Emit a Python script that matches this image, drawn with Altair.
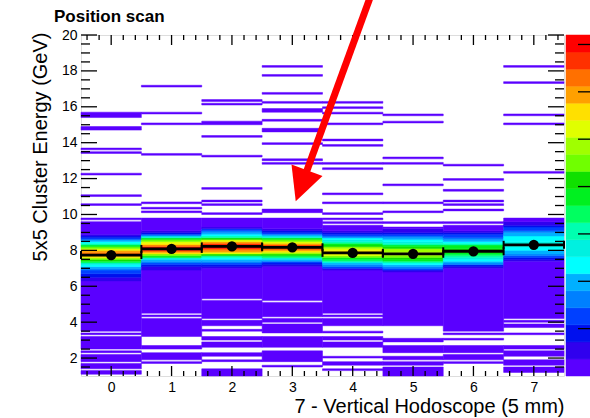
import altair as alt
import pandas as pd

FONT = "Liberation Sans"

# ---------------------------------------------------------------- data
hodo_bins = [0, 1, 2, 3, 4, 5, 6, 7]

# profile (mean cluster energy per hodoscope channel, GeV)
profile_mean = [7.74, 8.08, 8.22, 8.17, 7.86, 7.81, 7.95, 8.31]

# energy intervals (GeV) holding a few entries -> lowest colour level
occupied = [
    [[15.4, 15.7], [14.7, 14.9], [13.6, 13.7], [13.4, 13.5], [12.2, 12.3], [11.0, 11.1],
     [10.5, 10.6], [9.7, 9.8], [3.5, 9.6], [3.3, 3.4], [2.5, 3.2], [2.3, 2.4], [1.8, 2.2],
     [1.4, 1.7], [1.1, 1.3]],
    [[17.1, 17.2], [15.6, 15.7], [15.0, 15.1], [13.3, 13.4], [10.6, 10.7], [10.3, 10.4],
     [10.1, 10.2], [4.5, 9.8], [4.3, 4.4], [3.2, 4.2], [2.5, 2.7], [1.9, 2.3], [1.7, 1.8]],
    [[16.3, 16.4], [16.1, 16.2], [15.0, 15.2], [14.3, 14.4], [13.2, 13.3], [11.4, 11.5],
     [10.7, 10.8], [10.5, 10.6], [10.0, 10.1], [5.3, 9.8], [4.2, 5.2], [3.8, 4.1], [3.5, 3.6],
     [3.0, 3.2], [2.6, 2.9], [2.1, 2.3], [1.8, 1.9], [1.0, 1.4]],
    [[18.2, 18.3], [17.7, 17.8], [16.7, 16.8], [16.2, 16.3], [15.7, 15.9], [15.2, 15.3],
     [14.6, 14.8], [13.9, 14.0], [13.0, 13.1], [12.8, 12.9], [10.1, 10.3], [5.2, 9.8],
     [4.3, 5.1], [4.0, 4.2], [3.4, 3.9], [2.6, 3.2], [1.8, 2.4], [1.5, 1.6]],
    [[16.2, 16.3], [15.9, 16.0], [15.6, 15.7], [15.0, 15.1], [14.1, 14.2], [13.8, 13.9],
     [12.8, 12.9], [12.5, 12.6], [11.1, 11.2], [10.6, 10.7], [10.0, 10.1], [9.7, 9.8],
     [9.5, 9.6], [4.5, 9.4], [4.3, 4.4], [3.8, 4.2], [3.4, 3.5], [3.0, 3.2], [2.6, 2.9],
     [2.0, 2.1], [1.6, 1.8], [1.3, 1.4]],
    [[15.5, 15.6], [15.1, 15.2], [13.1, 13.2], [12.8, 12.9], [11.6, 11.7], [10.6, 10.7],
     [10.1, 10.2], [9.5, 9.6], [3.8, 9.3], [2.9, 3.1], [2.3, 2.7], [1.9, 2.1], [1.6, 1.8],
     [1.0, 1.5]],
    [[12.7, 12.8], [11.9, 12.0], [11.3, 11.4], [10.7, 10.8], [10.5, 10.6], [10.2, 10.3],
     [9.5, 9.6], [3.5, 9.4], [3.3, 3.4], [3.0, 3.1], [2.3, 2.7], [1.9, 2.2], [1.7, 1.8]],
    [[18.2, 18.3], [17.3, 17.4], [15.5, 15.6], [15.0, 15.1], [12.3, 12.4], [4.2, 9.8],
     [4.0, 4.1], [3.7, 3.9], [3.3, 3.4], [2.5, 2.7], [2.1, 2.4], [1.6, 1.9], [1.2, 1.5]],
]

# colour level (1..20) of every 0.1 GeV bin in the populated core
core_start = [6.3, 6.9, 7.0, 7.1, 6.9, 6.8, 7.0, 7.4]
core_levels = [
    [2, 2, 3, 3, 4, 4, 5, 6, 7, 8, 10, 12, 14, 16, 18, 18, 17, 15, 13, 11, 9, 7, 6, 4, 3, 2],
    [2, 2, 3, 4, 5, 6, 8, 11, 13, 16, 18, 20, 20, 18, 16, 15, 13, 11, 8, 5, 3, 2],
    [2, 3, 4, 5, 6, 7, 9, 12, 15, 17, 18, 20, 20, 19, 17, 15, 12, 9, 7, 6, 5, 4, 2],
    [2, 3, 4, 6, 8, 10, 12, 14, 16, 18, 19, 19, 17, 15, 13, 11, 8, 6, 4, 3, 2],
    [2, 4, 5, 6, 8, 10, 11, 13, 15, 16, 16, 15, 14, 12, 11, 9, 8, 7, 5, 4, 3, 2],
    [2, 4, 5, 6, 7, 9, 11, 12, 13, 14, 15, 14, 14, 12, 11, 9, 8, 7, 6, 5, 4, 3, 2, 2],
    [2, 3, 5, 6, 7, 8, 9, 10, 11, 12, 12, 11, 11, 9, 7, 6, 5, 4, 4, 3, 2],
    [2, 3, 4, 5, 6, 6, 7, 7, 8, 8, 8, 7, 7, 7, 6, 6, 5, 4, 4, 3, 2, 2],
]

# rainbow palette, lowest level first
palette = ["#5A00FF", "#3000EE", "#0010EE", "#0040FF", "#0080FF", "#00B0FF", "#00FFFF",
           "#00F0E0", "#00FFB0", "#00FF60", "#00F020", "#10E000", "#70FF00", "#A0FF00",
           "#E0FF00", "#FFE000", "#FFA000", "#FF7000", "#FF3000", "#FF0000"]

# z axis of the palette (entries per cell)
z_max = 144
z_ticks = [20, 40, 60, 80, 100, 120, 140]

# axis ticks
x_major = [0, 1, 2, 3, 4, 5, 6, 7]
x_minor = [round(-0.4 + 0.2 * i, 1) for i in range(40) if round(-0.4 + 0.2 * i, 1) % 1 != 0]
y_major = [2, 4, 6, 8, 10, 12, 14, 16, 18, 20]
y_minor = [1.5 + 0.5 * i for i in range(37) if (1.5 + 0.5 * i) % 2 != 0]

# annotation arrow (data coordinates)
arrow_tail = (4.30, 22.2)
arrow_head = (3.15, 11.60)

# ---------------------------------------------------------------- cells
E_MIN, E_MAX, BIN = 1.0, 20.0, 0.1
nbins = int(round((E_MAX - E_MIN) / BIN))
cells = []
for c in hodo_bins:
    lev = [0] * nbins
    for lo, hi in occupied[c]:
        for i in range(int(round((lo - E_MIN) / BIN)), int(round((hi - E_MIN) / BIN))):
            lev[i] = 1
    i0 = int(round((core_start[c] - E_MIN) / BIN))
    for k, L in enumerate(core_levels[c]):
        lev[i0 + k] = L
    i = 0
    while i < nbins:
        if lev[i] == 0:
            i += 1
            continue
        j = i
        while j + 1 < nbins and lev[j + 1] == lev[i]:
            j += 1
        cells.append(dict(x0=c - 0.5, x1=c + 0.5, e0=E_MIN + i * BIN,
                          e1=E_MIN + (j + 1) * BIN, col=palette[lev[i] - 1]))
        i = j + 1
cells = pd.DataFrame(cells)

prof = pd.DataFrame({"ch": hodo_bins, "mean": profile_mean})
prof["lo"] = prof["ch"] - 0.5
prof["hi"] = prof["ch"] + 0.5
caps = pd.DataFrame({"edge": list(prof["lo"]) + list(prof["hi"]),
                     "mean": profile_mean + profile_mean})


# palette box: its z range spans the full frame height
def z_to_e(z):
    return E_MIN + z / z_max * (E_MAX - E_MIN)


bands = pd.DataFrame({"e0": [z_to_e(k * z_max / 20) for k in range(20)],
                      "e1": [z_to_e((k + 1) * z_max / 20) for k in range(20)],
                      "col": palette})
ztick_df = pd.DataFrame({"e": [z_to_e(z) for z in z_ticks]})

W, H = 483, 341
xs = alt.Scale(domain=[-0.5, 7.5], nice=False, zero=False)
ys = alt.Scale(domain=[E_MIN, E_MAX], nice=False, zero=False)

# one axis definition shared by every layer so the merged axes stay identical
x_axis = alt.Axis(values=x_major, format="d", ticks=False, domain=False, grid=False,
                  labelFontSize=14, labelPadding=4, labelColor="black",
                  labelFont=FONT, labelFlush=False, labelOverlap=False,
                  title="7 - Vertical Hodoscope (5 mm)", titleFontSize=20,
                  titleFontWeight="normal", titleFont=FONT, titleColor="black",
                  titleAnchor="end", titleAlign="right", titleBaseline="alphabetic",
                  titleX=W, titleY=36)
y_axis = alt.Axis(values=y_major, format="d", ticks=False, domain=False, grid=False,
                  labelFontSize=14, labelPadding=4, labelColor="black",
                  labelFont=FONT, labelFlush=False, labelOverlap=False,
                  title="5x5 Cluster Energy (GeV)", titleFontSize=20,
                  titleFontWeight="normal", titleFont=FONT, titleColor="black",
                  titleAngle=270, titleAnchor="end", titleAlign="right",
                  titleBaseline="alphabetic", titleX=-35, titleY=-3)


def X(field):
    return alt.X(field, scale=xs, axis=x_axis)


def Y(field):
    return alt.Y(field, scale=ys, axis=y_axis)


hist = alt.Chart(cells).mark_rect(strokeWidth=0.5).encode(
    x=X("x0:Q"), x2="x1:Q", y=Y("e0:Q"), y2="e1:Q",
    fill=alt.Fill("col:N", scale=None),
    stroke=alt.Stroke("col:N", scale=None),
)


def ticks_x(vals, length, top):
    d = pd.DataFrame({"v": vals})
    if top:
        yy, yy2 = alt.value(0), alt.value(length)
    else:
        yy, yy2 = alt.value(H), alt.value(H - length)
    return alt.Chart(d).mark_rule(color="black", strokeWidth=1.3).encode(
        x=X("v:Q"), y=yy, y2=yy2)


def ticks_y(vals, length, right):
    d = pd.DataFrame({"v": vals})
    if right:
        xx, xx2 = alt.value(W), alt.value(W - length)
    else:
        xx, xx2 = alt.value(0), alt.value(length)
    return alt.Chart(d).mark_rule(color="black", strokeWidth=1.3).encode(
        y=Y("v:Q"), x=xx, x2=xx2)


frame_ticks = [
    ticks_x(x_major, 10, False), ticks_x(x_minor, 5, False),
    ticks_x(x_major, 10, True), ticks_x(x_minor, 5, True),
    ticks_y(y_major, 16, False), ticks_y(y_minor, 9, False),
    ticks_y(y_major, 16, True), ticks_y(y_minor, 9, True),
]

errbar = alt.Chart(prof).mark_rule(color="black", strokeWidth=2.8).encode(
    x=X("lo:Q"), x2="hi:Q", y=Y("mean:Q"))

capmarks = alt.Chart(caps).mark_tick(color="black", orient="vertical", size=8,
                                      thickness=2, opacity=1).encode(
    x=X("edge:Q"), y=Y("mean:Q"))

dots = alt.Chart(prof).mark_circle(color="black", size=105, opacity=1).encode(
    x=X("ch:Q"), y=Y("mean:Q"))

arrow_df = pd.DataFrame({"xt": [arrow_tail[0]], "et": [arrow_tail[1]],
                         "xh": [arrow_head[0]], "eh": [arrow_head[1]]})
shaft = alt.Chart(arrow_df).mark_rule(color="#FF0000", strokeWidth=7).encode(
    x=X("xt:Q"), y=Y("et:Q"), x2="xh:Q", y2="eh:Q")
head = alt.Chart(arrow_df).mark_point(shape="M-1,-1L1,-1L0,1Z", size=1089, angle=20,
                                      filled=True, color="#FF0000", opacity=1).encode(
    x=X("xh:Q"), y=Y("eh:Q"))

cbar = alt.Chart(bands).mark_rect(strokeWidth=0.5).encode(
    x=alt.value(W + 2), x2=alt.value(W + 30),
    y=Y("e0:Q"), y2="e1:Q",
    fill=alt.Fill("col:N", scale=None), stroke=alt.Stroke("col:N", scale=None))
cbar_ticks = alt.Chart(ztick_df).mark_rule(color="black", strokeWidth=1.3).encode(
    y=Y("e:Q"), x=alt.value(W + 14), x2=alt.value(W + 30))

title = alt.Chart(pd.DataFrame({"t": ["Position scan"]})).mark_text(
    align="left", baseline="alphabetic", fontSize=17, fontWeight="bold", font=FONT,
    color="black").encode(text="t:N", x=alt.value(-27), y=alt.value(-13))

chart = alt.layer(hist, *frame_ticks, errbar, capmarks, dots, shaft, head,
                  cbar, cbar_ticks, title).properties(
    width=W, height=H,
    padding={"left": 81, "top": 35, "right": 26, "bottom": 42},
    autosize=alt.AutoSizeParams(type="none"),
).configure_view(stroke="black", strokeWidth=2).configure(font=FONT)

chart.save("out.html", embed_options={"renderer": "svg", "actions": False})
